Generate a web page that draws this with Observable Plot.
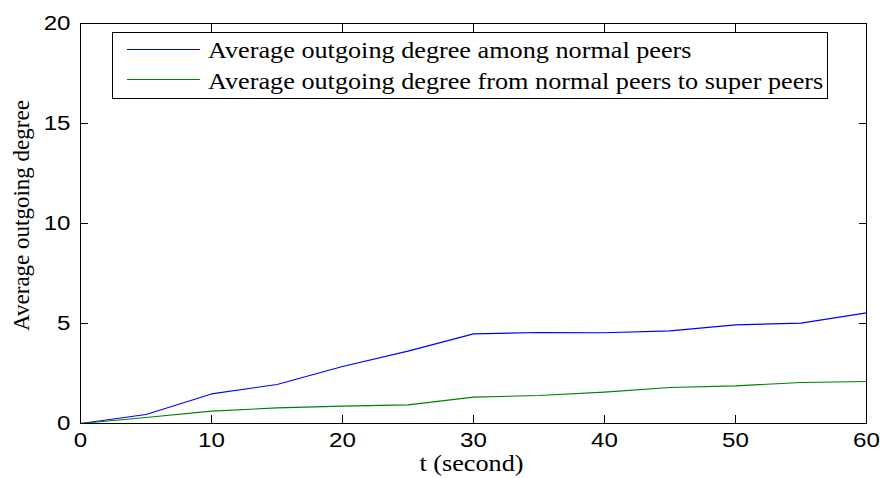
<!DOCTYPE html>
<html><head><meta charset="utf-8">
<script src="https://cdn.jsdelivr.net/npm/d3@7"></script>
<script src="https://cdn.jsdelivr.net/npm/@observablehq/plot@0.6"></script>
<style>
body{margin:0;background:#fff;}
#chart{width:880px;height:478px;}
</style></head><body><div id="chart"></div>
<script>
const t = [0, 5, 10, 15, 20, 25, 30, 35, 40, 45, 50, 55, 60];
const normalPeers = [0, 0.45, 1.48, 1.95, 2.85, 3.62, 4.48, 4.55, 4.54, 4.63, 4.93, 5.02, 5.53];
const toSuperPeers = [0, 0.30, 0.62, 0.78, 0.87, 0.93, 1.32, 1.40, 1.57, 1.80, 1.88, 2.05, 2.10];
const seriesNames = ["Average outgoing degree among normal peers", "Average outgoing degree from normal peers to super peers"];
const seriesColors = ["#0000ff", "#008000"];
const xTicks = [0, 10, 20, 30, 40, 50, 60];
const yTicks = [0, 5, 10, 15, 20];
const xLabel = "t (second)";
const yLabel = "Average outgoing degree";

const data = [];
[normalPeers, toSuperPeers].forEach((vals, k) => {
  t.forEach((tt, i) => data.push({t: tt, value: vals[i], series: seriesNames[k]}));
});

const serif = "'Liberation Serif', 'Times New Roman', serif";
const sans = "'Liberation Sans', Arial, Helvetica, sans-serif";

const chart = Plot.plot({
  width: 880,
  height: 478,
  marginLeft: 80,
  marginRight: 14,
  marginTop: 23,
  marginBottom: 55,
  style: {background: "white", fontFamily: sans, fontSize: "21px", color: "black"},
  x: {domain: [0, 60]},
  y: {domain: [0, 20]},
  color: {domain: seriesNames, range: seriesColors},
  marks: [
    Plot.line(data, {x: "t", y: "value", stroke: "series", strokeWidth: 1.1}),
    Plot.axisX({ticks: xTicks, anchor: "bottom", tickSize: -8, tickPadding: 17, label: null, fontSize: 21}),
    Plot.axisX({ticks: xTicks, anchor: "top", tickSize: -8, tickFormat: () => "", label: null}),
    Plot.axisY({ticks: yTicks, anchor: "left", tickSize: -8, tickPadding: 18, label: null, fontSize: 21}),
    Plot.axisY({ticks: yTicks, anchor: "right", tickSize: -8, tickFormat: () => "", label: null}),
    Plot.frame({stroke: "black"}),
    Plot.text([xLabel], {text: d => d, frameAnchor: "bottom", dy: 47, dx: -2, lineAnchor: "bottom", fontFamily: serif, fontSize: 23}),
    Plot.text([yLabel], {text: d => d, frameAnchor: "left", textAnchor: "middle", rotate: -90, dx: -52, dy: -8, lineAnchor: "bottom", fontFamily: serif, fontSize: 23})
  ]
});
document.getElementById("chart").appendChild(chart);

// horizontal stretch of text, as in the reference
function stretchNodes(nodes, s, mode) {
  nodes.forEach(function (el) {
    const b = el.getBBox();
    const cx = mode === "end" ? b.x + b.width : mode === "start" ? b.x : b.x + b.width / 2;
    const prev = el.getAttribute("transform") || "";
    el.setAttribute("transform", `${prev} translate(${cx},0) scale(${s},1) translate(${-cx},0)`);
  });
}
const allText = Array.from(chart.querySelectorAll("text"));
const xTickText = xTicks.map(String);
const yTickText = yTicks.map(String);
const bottomAxisTexts = allText.filter(el => {
  const g = el.closest("g[aria-label]");
  return g && /x-axis tick label/.test(g.getAttribute("aria-label"));
});
const leftAxisTexts = allText.filter(el => {
  const g = el.closest("g[aria-label]");
  return g && /y-axis tick label/.test(g.getAttribute("aria-label"));
});
stretchNodes(bottomAxisTexts, 1.15, "middle");
stretchNodes(leftAxisTexts, 1.15, "end");
stretchNodes(allText.filter(el => el.textContent === xLabel), 1.14, "middle");

// legend
const svg = d3.select(chart);
const lg = svg.append("g");
lg.append("rect").attr("x", 112.5).attr("y", 32.5).attr("width", 715).attr("height", 66)
  .attr("fill", "white").attr("stroke", "black").attr("stroke-width", 1);
seriesNames.forEach((name, i) => {
  const ly = [49.5, 79.5][i];
  const by = [58, 89][i];
  lg.append("line").attr("x1", 127).attr("x2", 200).attr("y1", ly).attr("y2", ly)
    .attr("stroke", seriesColors[i]).attr("stroke-width", 1);
  lg.append("text").attr("transform", `translate(208,${by}) scale(1.14,1)`)
    .attr("text-anchor", "start")
    .attr("font-family", serif).attr("font-size", 23).attr("fill", "black").text(name);
});
</script>
</body></html>
